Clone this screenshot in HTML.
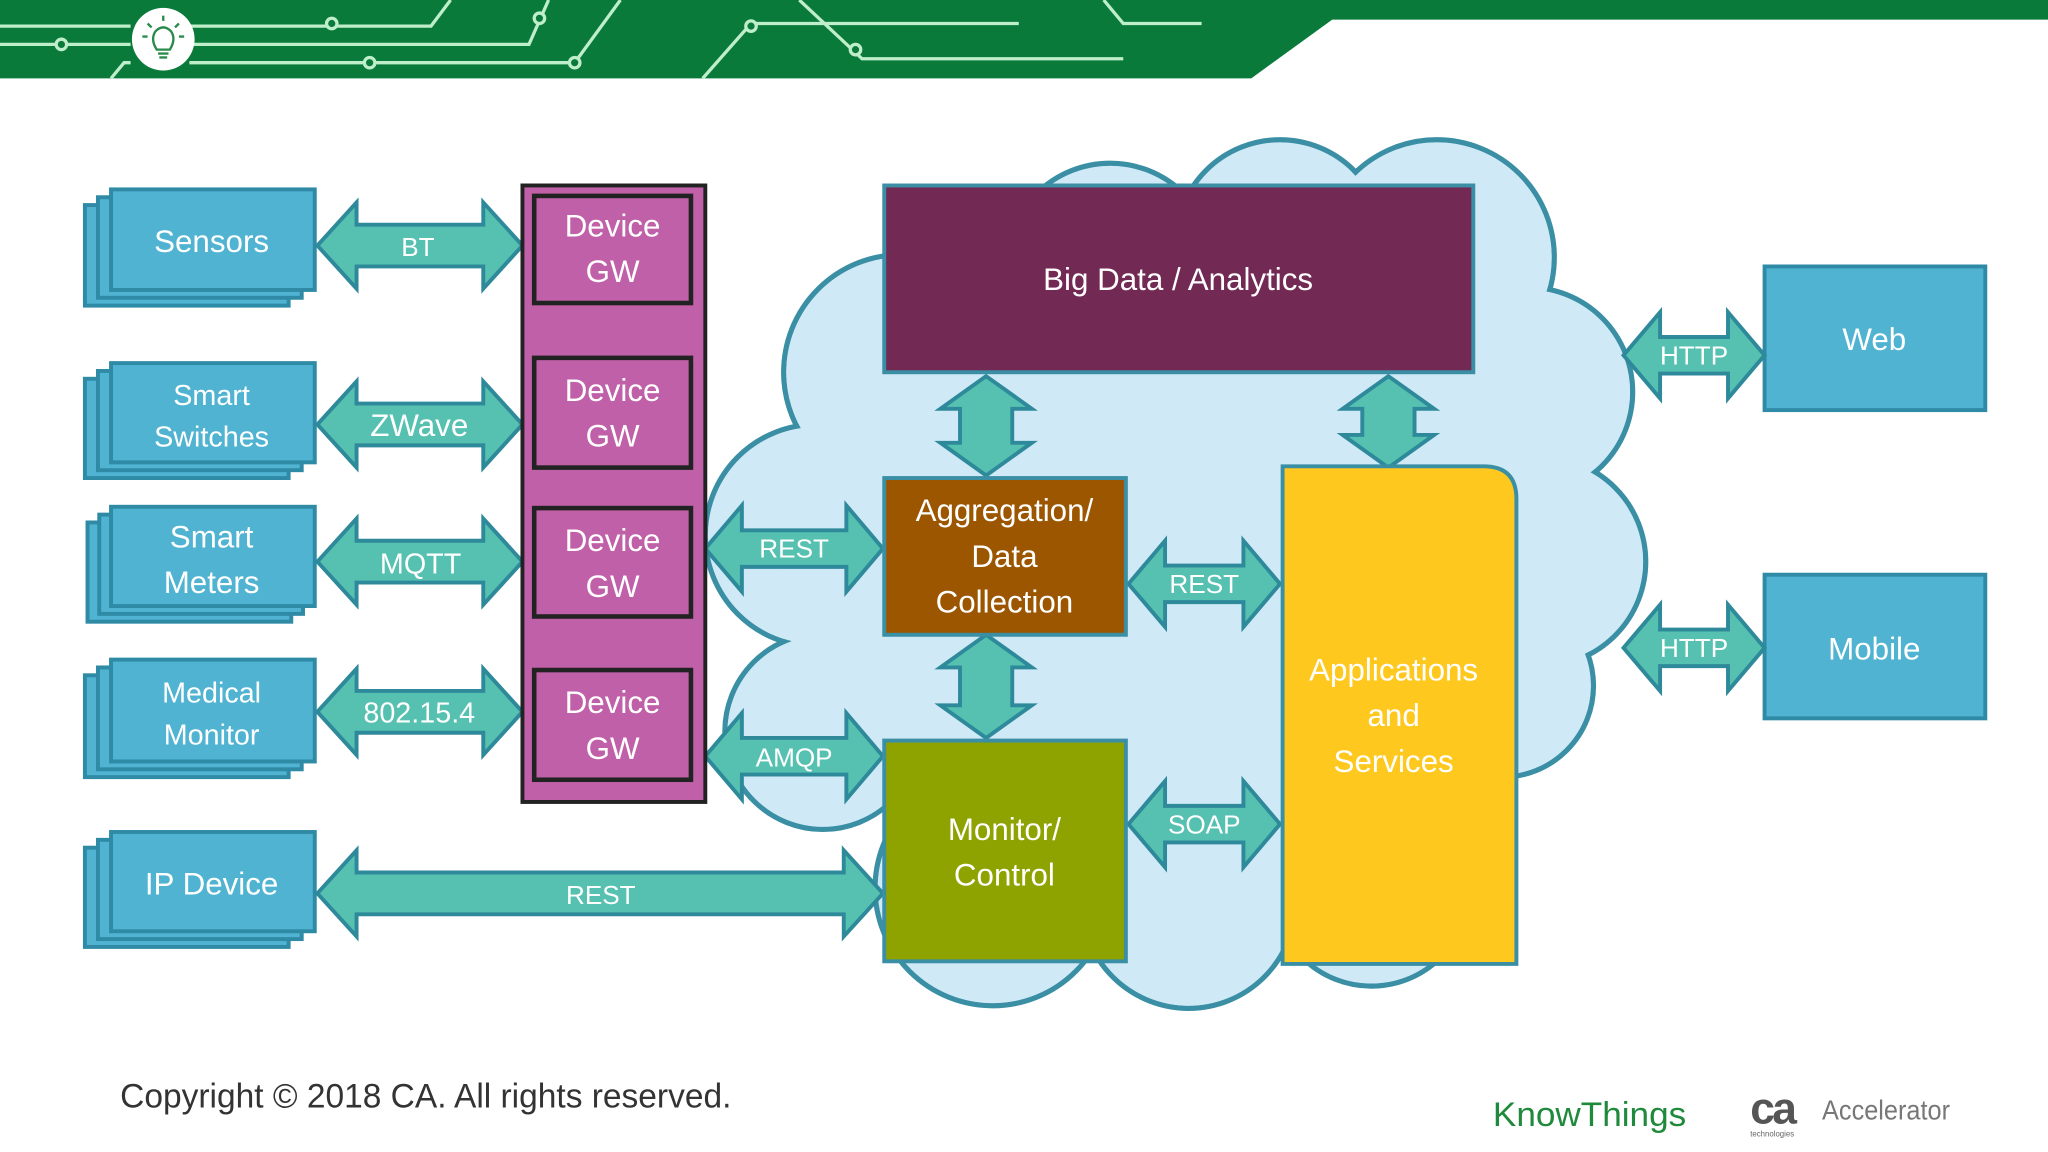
<!DOCTYPE html>
<html><head><meta charset="utf-8"><style>
html,body{margin:0;padding:0;background:#fff;}
svg{display:block;}
text{font-family:"Liberation Sans",sans-serif;}
</style></head><body>
<svg width="2048" height="1152" viewBox="0 0 1568 882" xmlns="http://www.w3.org/2000/svg">
<rect width="1568" height="882" fill="#fff"/>
<!-- header -->
<polygon points="0,0 1568,0 1568,15 1020,15 958,60 0,60" fill="#0a7a3a"/>
<g stroke="#bfeecb" stroke-width="2.5" fill="none">
<polyline points="0,20 100,20"/><polyline points="145,20 330,20 345,0"/>
<polyline points="0,34 100,34"/><polyline points="145,34 405,34 420,0"/>
<polyline points="85,60 95,48 100,48"/><polyline points="145,48 440,48 475,0"/>
<polyline points="538,60 575,18 780,18"/>
<polyline points="612,0 660,45 860,45"/>
<polyline points="845,0 860,18 920,18"/>
<circle cx="47" cy="34" r="4" fill="#0a7a3a"/><circle cx="254" cy="18" r="4" fill="#0a7a3a"/>
<circle cx="283" cy="48" r="4" fill="#0a7a3a"/><circle cx="440" cy="48" r="4" fill="#0a7a3a"/>
<circle cx="413" cy="14" r="4" fill="#0a7a3a"/><circle cx="575" cy="20" r="4" fill="#0a7a3a"/>
<circle cx="655" cy="38" r="4" fill="#0a7a3a"/>
</g>
<circle cx="125" cy="30" r="24" fill="#fff"/>
<g stroke="#2a8a4a" stroke-width="1.8" fill="none">
<path d="M120,38 Q115,30 119,24 Q125,18 131,24 Q135,30 130,38 Z"/>
<line x1="121" y1="41" x2="129" y2="41"/><line x1="122" y1="44" x2="128" y2="44"/>
<line x1="125" y1="12" x2="125" y2="16"/><line x1="113" y1="18" x2="116" y2="21"/><line x1="137" y1="18" x2="134" y2="21"/>
<line x1="109" y1="28" x2="113" y2="28"/><line x1="141" y1="28" x2="137" y2="28"/>
</g>

<!-- cloud -->
<g fill="#cfe9f6" stroke="#3a8fa5" stroke-width="4">
<circle cx="850" cy="205" r="80"/><circle cx="980" cy="187" r="80"/><circle cx="1100" cy="197" r="90"/>
<circle cx="1170" cy="300" r="80"/><circle cx="1180" cy="430" r="80"/><circle cx="1150" cy="525" r="70"/>
<circle cx="690" cy="285" r="90"/><circle cx="625" cy="410" r="85"/><circle cx="630" cy="560" r="75"/>
<circle cx="760" cy="680" r="90"/><circle cx="910" cy="690" r="82"/><circle cx="1050" cy="680" r="75"/>
</g>
<g fill="#cfe9f6">
<circle cx="850" cy="205" r="78"/><circle cx="980" cy="187" r="78"/><circle cx="1100" cy="197" r="88"/>
<circle cx="1170" cy="300" r="78"/><circle cx="1180" cy="430" r="78"/><circle cx="1150" cy="525" r="68"/>
<circle cx="690" cy="285" r="88"/><circle cx="625" cy="410" r="83"/><circle cx="630" cy="560" r="73"/>
<circle cx="760" cy="680" r="88"/><circle cx="910" cy="690" r="80"/><circle cx="1050" cy="680" r="73"/>
<ellipse cx="900" cy="440" rx="300" ry="260"/>
</g>

<!-- stacked device boxes -->
<g fill="#4fb3d1" stroke="#2f8aa5" stroke-width="3">
<rect x="65" y="157" width="156" height="77"/><rect x="75" y="151" width="156" height="77"/><rect x="85" y="145" width="156" height="77"/>
<rect x="65" y="290" width="156" height="76"/><rect x="75" y="284" width="156" height="76"/><rect x="85" y="278" width="156" height="76"/>
<rect x="67" y="400" width="156" height="76"/><rect x="76" y="394" width="156" height="76"/><rect x="85" y="388" width="156" height="76"/>
<rect x="65" y="517" width="156" height="78"/><rect x="75" y="511" width="156" height="78"/><rect x="85" y="505" width="156" height="78"/>
<rect x="65" y="649" width="156" height="76"/><rect x="75" y="643" width="156" height="76"/><rect x="85" y="637" width="156" height="76"/>
<rect x="1351" y="204" width="169" height="110"/>
<rect x="1351" y="440" width="169" height="110"/>
</g>

<!-- arrows -->
<g fill="#56c1b0" stroke="#2e8a9a" stroke-width="3" stroke-linejoin="miter">
<polygon points="243,188 273,155 273,172 370,172 370,155 400,188 370,221 370,204 273,204 273,221"/>
<polygon points="243,325 273,292 273,309 370,309 370,292 400,325 370,358 370,341 273,341 273,358"/>
<polygon points="243,430 273,397 273,414 370,414 370,397 400,430 370,463 370,446 273,446 273,463"/>
<polygon points="243,545 273,512 273,529 370,529 370,512 400,545 370,578 370,561 273,561 273,578"/>
<polygon points="243,684 273,651 273,668 646,668 646,651 676,684 646,717 646,700 273,700 273,717"/>
<polygon points="540,420 568,387 568,406 648,406 648,387 676,420 648,453 648,434 568,434 568,453"/>
<polygon points="540,579 568,546 568,565 648,565 648,546 676,579 648,612 648,593 568,593 568,612"/>
<polygon points="864,447 892,414 892,433 952,433 952,414 980,447 952,480 952,461 892,461 892,480"/>
<polygon points="864,631 892,598 892,617 952,617 952,598 980,631 952,664 952,645 892,645 892,664"/>
<polygon points="1243,272 1271,239 1271,258 1323,258 1323,239 1351,272 1323,305 1323,286 1271,286 1271,305"/>
<polygon points="1243,496 1271,463 1271,482 1323,482 1323,463 1351,496 1323,529 1323,510 1271,510 1271,529"/>
<polygon points="755,288 790,313 775,313 775,339 790,339 755,364 720,339 735,339 735,313 720,313"/>
<polygon points="1063,288 1098,313 1083,313 1083,333 1098,333 1063,358 1028,333 1043,333 1043,313 1028,313"/>
<polygon points="755,486 790,511 775,511 775,540 790,540 755,565 720,540 735,540 735,511 720,511"/>
</g>

<!-- gateway column -->
<rect x="400" y="142" width="140" height="472" fill="#c060a8" stroke="#222" stroke-width="3"/>
<g fill="#c060a8" stroke="#222" stroke-width="3.5">
<rect x="409" y="150" width="120" height="82"/>
<rect x="409" y="274" width="120" height="84"/>
<rect x="409" y="389" width="120" height="83"/>
<rect x="409" y="513" width="120" height="84"/>
</g>

<!-- cloud boxes -->
<g stroke="#3a8fa5" stroke-width="3">
<rect x="677" y="142" width="451" height="143" fill="#722a55"/>
<rect x="677" y="366" width="185" height="120" fill="#9c5600"/>
<rect x="677" y="567" width="185" height="169" fill="#8ea200"/>
<path d="M982,357 H1136 Q1161,357 1161,382 V738 H982 Z" fill="#fec81e"/>
</g>

<!-- labels -->
<g fill="#fff" text-anchor="middle" font-size="24">
<text x="162" y="193">Sensors</text>
<text x="162" y="310" font-size="22">Smart</text><text x="162" y="342" font-size="22">Switches</text>
<text x="162" y="419">Smart</text><text x="162" y="454">Meters</text>
<text x="162" y="538" font-size="22">Medical</text><text x="162" y="570" font-size="22">Monitor</text>
<text x="162" y="685">IP Device</text>
<text x="469" y="181">Device</text><text x="469" y="216">GW</text>
<text x="469" y="307">Device</text><text x="469" y="342">GW</text>
<text x="469" y="422">Device</text><text x="469" y="457">GW</text>
<text x="469" y="546">Device</text><text x="469" y="581">GW</text>
<text x="902" y="222">Big Data / Analytics</text>
<text x="769" y="399">Aggregation/</text><text x="769" y="434">Data</text><text x="769" y="469">Collection</text>
<text x="769" y="643">Monitor/</text><text x="769" y="678">Control</text>
<text x="1067" y="521">Applications</text><text x="1067" y="556">and</text><text x="1067" y="591">Services</text>
<text x="1435" y="268">Web</text>
<text x="1435" y="505">Mobile</text>
<g font-size="20">
<text x="320" y="196">BT</text>
<text x="321" y="334" font-size="24">ZWave</text>
<text x="322" y="439" font-size="22">MQTT</text>
<text x="321" y="553" font-size="22">802.15.4</text>
<text x="460" y="692">REST</text>
<text x="608" y="427">REST</text>
<text x="608" y="587">AMQP</text>
<text x="922" y="454">REST</text>
<text x="922" y="638">SOAP</text>
<text x="1297" y="279">HTTP</text>
<text x="1297" y="503">HTTP</text>
</g>
</g>

<!-- footer -->
<text x="92" y="848" font-size="26" fill="#333" textLength="468" lengthAdjust="spacingAndGlyphs">Copyright © 2018 CA. All rights reserved.</text>
<text x="1143" y="862" font-size="26" fill="#1f8a3c" textLength="148" lengthAdjust="spacingAndGlyphs">KnowThings</text>
<text x="1340" y="860" font-size="34" font-weight="bold" fill="#555" letter-spacing="-2">ca</text>
<text x="1340" y="870" font-size="6" fill="#666">technologies</text>
<text x="1395" y="857" font-size="21" fill="#777" textLength="98" lengthAdjust="spacingAndGlyphs">Accelerator</text>
</svg>
</body></html>
